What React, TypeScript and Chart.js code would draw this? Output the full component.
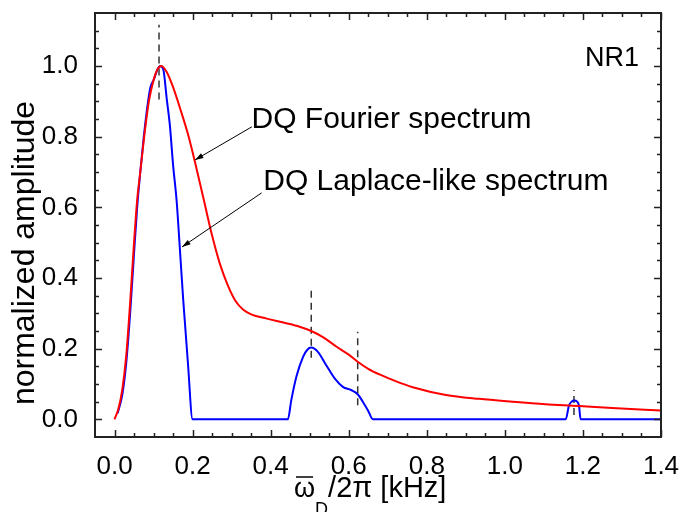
import React, { useEffect, useRef } from "react";
import { Chart, registerables } from "chart.js";

Chart.register(...registerables);

// ---- data ----
const fourierX = [0, 0.01, 0.02, 0.03, 0.04, 0.05, 0.058, 0.066, 0.076, 0.088, 0.1, 0.11, 0.12, 0.134, 0.15, 0.17, 0.19, 0.21, 0.23, 0.25, 0.27, 0.29, 0.31, 0.33, 0.35, 0.39, 0.44, 0.474, 0.504, 0.535, 0.568, 0.6, 0.623, 0.65, 0.679, 0.72, 0.764, 0.849, 0.934, 1.019, 1.104, 1.19, 1.275, 1.4];
const fourierY = [0, 0.03, 0.085, 0.18, 0.33, 0.5, 0.62, 0.7, 0.8, 0.9, 0.96, 0.99, 1.0, 0.982, 0.94, 0.873, 0.8, 0.71, 0.615, 0.52, 0.44, 0.38, 0.335, 0.31, 0.297, 0.285, 0.272, 0.262, 0.25, 0.232, 0.206, 0.183, 0.163, 0.143, 0.127, 0.108, 0.091, 0.069, 0.058, 0.05, 0.043, 0.038, 0.032, 0.025];

const laplaceX = [0.008, 0.02, 0.03, 0.04, 0.05, 0.058, 0.066, 0.075, 0.086, 0.092, 0.1, 0.11, 0.117, 0.125, 0.134, 0.142, 0.15, 0.159, 0.167, 0.176, 0.188, 0.2, 0.444, 0.453, 0.466, 0.483, 0.494, 0.504, 0.521, 0.542, 0.564, 0.585, 0.606, 0.623, 0.636, 0.649, 0.662, 1.156, 1.164, 1.171, 1.178, 1.185, 1.19, 1.194, 1.4];
const laplaceY = [0.017, 0.07, 0.16, 0.3, 0.47, 0.6, 0.7, 0.8, 0.9, 0.94, 0.96, 0.99, 1.0, 0.99, 0.905, 0.83, 0.72, 0.62, 0.49, 0.338, 0.16, 0, 0, 0.055, 0.121, 0.177, 0.197, 0.203, 0.191, 0.154, 0.116, 0.092, 0.083, 0.071, 0.05, 0.026, 0, 0, 0.038, 0.05, 0.053, 0.05, 0.038, 0, 0];

const markerX = [0.114, 0.504, 0.623, 1.177];
const markerTop = [1.117, 0.375, 0.248, 0.083];
const markerBottom = [0.905, 0.174, 0.04, 0.012];

const xTickLabels = [0, 0.2, 0.4, 0.6, 0.8, 1.0, 1.2, 1.4];
const yTickLabels = [0, 0.2, 0.4, 0.6, 0.8, 1.0];
const MINOR_STEP = 0.05;

const annotations = ["DQ Fourier spectrum", "DQ Laplace-like spectrum"];
const annotX = [0.351, 0.381];
const annotY = [0.824, 0.65];
const arrowTailX = [0.352, 0.377];
const arrowTailY = [0.828, 0.641];
const arrowTipX = [0.206, 0.173];
const arrowTipY = [0.734, 0.488];

const FONT = '"Liberation Sans", Arial, sans-serif';

const decor = {
  id: "decor",
  afterDraw(chart: any) {
    const { ctx, chartArea } = chart;
    const { left, right, top, bottom } = chartArea;
    const xs = chart.scales.x;
    const ys = chart.scales.y;
    ctx.save();
    // frame
    ctx.strokeStyle = "#222";
    ctx.lineWidth = 2;
    ctx.strokeRect(left, top, right - left, bottom - top);
    // inward ticks
    ctx.lineWidth = 1.5;
    const isMajor = (v: number, arr: number[]) => arr.some((m) => Math.abs(m - v) < 1e-6);
    for (let i = 0; i * MINOR_STEP <= 1.4 + 1e-9; i++) {
      const v = i * MINOR_STEP;
      const px = Math.round(xs.getPixelForValue(v)) + 0.5;
      const len = isMajor(v, xTickLabels) ? 7 : 4;
      ctx.beginPath();
      ctx.moveTo(px, bottom);
      ctx.lineTo(px, bottom - len);
      ctx.moveTo(px, top);
      ctx.lineTo(px, top + len);
      ctx.stroke();
    }
    for (let i = 0; i * MINOR_STEP <= 1.1 + 1e-9; i++) {
      const v = i * MINOR_STEP;
      const py = Math.round(ys.getPixelForValue(v)) + 0.5;
      const len = isMajor(v, yTickLabels) ? 7 : 4;
      ctx.beginPath();
      ctx.moveTo(left, py);
      ctx.lineTo(left + len, py);
      ctx.moveTo(right, py);
      ctx.lineTo(right - len, py);
      ctx.stroke();
    }
    // arrows
    ctx.strokeStyle = "#000";
    ctx.lineWidth = 1;
    for (let i = 0; i < arrowTipX.length; i++) {
      const x1 = xs.getPixelForValue(arrowTailX[i]);
      const y1 = ys.getPixelForValue(arrowTailY[i]);
      const x2 = xs.getPixelForValue(arrowTipX[i]);
      const y2 = ys.getPixelForValue(arrowTipY[i]);
      const a = Math.atan2(y2 - y1, x2 - x1);
      ctx.beginPath();
      ctx.moveTo(x1, y1);
      ctx.lineTo(x2, y2);
      ctx.stroke();
      const hl = 9;
      ctx.beginPath();
      ctx.moveTo(x2, y2);
      ctx.lineTo(x2 - hl * Math.cos(a - 0.3), y2 - hl * Math.sin(a - 0.3));
      ctx.lineTo(x2 - hl * Math.cos(a + 0.3), y2 - hl * Math.sin(a + 0.3));
      ctx.closePath();
      ctx.fillStyle = "#000";
      ctx.fill();
    }
    // annotations
    ctx.fillStyle = "#000";
    ctx.font = `30px ${FONT}`;
    ctx.textAlign = "left";
    ctx.textBaseline = "alphabetic";
    for (let i = 0; i < annotations.length; i++) {
      ctx.fillText(annotations[i], xs.getPixelForValue(annotX[i]), ys.getPixelForValue(annotY[i]));
    }
    ctx.font = `27px ${FONT}`;
    ctx.textAlign = "right";
    ctx.fillText("NR1", 639, 66);
    // x title
    ctx.textAlign = "left";
    let cx = 294;
    const base = 497;
    ctx.font = `27px ${FONT}`;
    ctx.fillText("ω", cx, base);
    const wOm = ctx.measureText("ω").width;
    ctx.lineWidth = 1.5;
    ctx.beginPath();
    ctx.moveTo(cx + 2, 477);
    ctx.lineTo(cx + wOm - 2, 477);
    ctx.stroke();
    cx += wOm;
    ctx.font = `18px ${FONT}`;
    ctx.fillText("D", cx, base + 18);
    cx += ctx.measureText("D").width;
    ctx.font = `29px ${FONT}`;
    ctx.fillText("/2π [kHz]", cx, base);
    // y title
    ctx.save();
    ctx.translate(25, 253);
    ctx.rotate(-Math.PI / 2);
    ctx.textAlign = "center";
    ctx.font = `32px ${FONT}`;
    ctx.fillText("normalized amplitude", 0, 9);
    ctx.restore();
    ctx.restore();
  },
};

const zeroPad = (s: any) => {
  s.paddingTop = 0;
  s.paddingBottom = 0;
  s.paddingLeft = 0;
  s.paddingRight = 0;
};

export default function App() {
  const ref = useRef<HTMLCanvasElement>(null);
  useEffect(() => {
    if (!ref.current) return;
    Chart.defaults.font.family = FONT;
    const toPts = (xa: number[], ya: number[]) => xa.map((x, i) => ({ x, y: ya[i] }));
    const markerSets = markerX.map((mx, i) => ({
      data: [
        { x: mx, y: markerBottom[i] },
        { x: mx, y: markerTop[i] },
      ],
      borderColor: "#333",
      borderWidth: 1.5,
      borderDash: [7, 5],
      pointRadius: 0,
      showLine: true,
    }));
    const chart = new Chart(ref.current, {
      type: "scatter",
      data: {
        datasets: [
          {
            data: toPts(fourierX, fourierY),
            borderColor: "#ff0000",
            borderWidth: 2,
            pointRadius: 0,
            showLine: true,
            cubicInterpolationMode: "monotone",
          },
          {
            data: toPts(laplaceX, laplaceY),
            borderColor: "#0000ff",
            borderWidth: 2,
            pointRadius: 0,
            showLine: true,
            cubicInterpolationMode: "monotone",
          },
          ...markerSets,
        ] as any,
      },
      options: {
        animation: false,
        responsive: false,
        devicePixelRatio: 1,
        layout: { padding: { top: 13, right: 20, left: 0, bottom: 0 } },
        plugins: { legend: { display: false }, tooltip: { enabled: false } },
        scales: {
          x: {
            type: "linear",
            min: -0.05,
            max: 1.4,
            grid: { display: false },
            border: { display: false },
            afterBuildTicks: (s: any) => {
              s.ticks = xTickLabels.map((v) => ({ value: v }));
            },
            afterFit: (s: any) => {
              s.height = 75;
              zeroPad(s);
            },
            ticks: {
              autoSkip: false,
              maxRotation: 0,
              padding: 6,
              color: "#000",
              font: { size: 26, family: FONT },
              callback: (v: any) => Number(v).toFixed(1),
            },
          },
          y: {
            type: "linear",
            min: -0.05,
            max: 1.15,
            grid: { display: false },
            border: { display: false },
            afterBuildTicks: (s: any) => {
              s.ticks = yTickLabels.map((v) => ({ value: v }));
            },
            afterFit: (s: any) => {
              s.width = 95;
              zeroPad(s);
            },
            ticks: {
              autoSkip: false,
              padding: 9,
              color: "#000",
              font: { size: 26, family: FONT },
              callback: (v: any) => Number(v).toFixed(1),
            },
          },
        },
      },
      plugins: [decor],
    });
    return () => chart.destroy();
  }, []);
  return (
    <div style={{ position: "absolute", left: 0, top: 0, width: 681, height: 512 }}>
      <canvas ref={ref} width={681} height={512} style={{ display: "block" }} />
    </div>
  );
}
